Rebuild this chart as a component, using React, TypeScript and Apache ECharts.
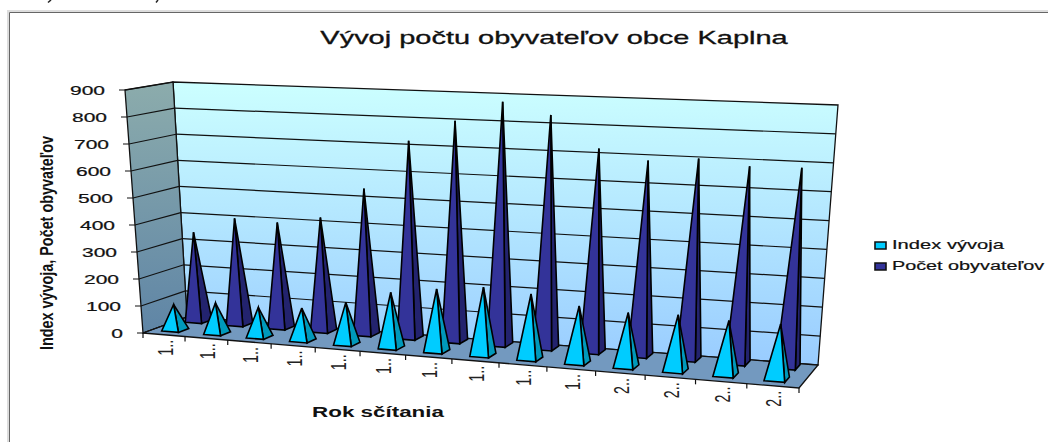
import React, { useEffect, useRef } from "react";
import * as echarts from "echarts";

const categories = ["1..", "1..", "1..", "1..", "1..", "1..", "1..", "1..", "1..", "1..", "2..", "2..", "2..", "2.."];
const indexVyvoja = [94, 112, 108, 117, 150, 198, 222, 240, 228, 198, 187, 192, 185, 186];
const pocetObyvatelov = [337, 399, 393, 421, 537, 721, 801, 877, 836, 723, 688, 703, 684, 687];
const yTicks = [0, 100, 200, 300, 400, 500, 600, 700, 800, 900];
const chartTitle = "Vývoj počtu obyvateľov obce Kaplna";
const xTitle = "Rok sčítania";
const yTitle = "Index vývoja, Počet obyvateľov";
const seriesNames = ["Index vývoja", "Počet obyvateľov"];

const FONT = "Liberation Sans";
const G = { left: 0, top: 0, width: 1000, height: 400 };

type P = [number, number];
const C = {
  flb: [143, 333] as P, flt: [125, 90] as P,
  frb: [799, 388] as P, frt: [820, 119] as P,
  blb: [187, 317] as P, blt: [173, 82] as P,
  brb: [818, 365] as P, brt: [838, 105] as P,
};
const warp = (u: number) => (0.89 * u) / (1 - 0.11 * u);
const mix = (a: P, b: P, t: number): P => [a[0] + (b[0] - a[0]) * t, a[1] + (b[1] - a[1]) * t];
function project(u: number, v: number, w: number): P {
  const t = warp(u);
  const fb = mix(C.flb, C.frb, t), ft = mix(C.flt, C.frt, t);
  const bb = mix(C.blb, C.brb, t), bt = mix(C.blt, C.brt, t);
  return mix(mix(fb, ft, v), mix(bb, bt, v), w);
}
const norm = (p: number[]) => [(p[0] - G.left) / G.width, (G.top + G.height - p[1]) / G.height];
const LINE = "#111";

function wallsItem() {
  const poly = (pts: P[], fill: any) => ({
    type: "polygon", shape: { points: pts }, style: { fill, stroke: LINE, lineWidth: 1.3 },
  });
  const grad = (a: string, b: string, x2 = 0) => new echarts.graphic.LinearGradient(0, 0, x2, 1, [
    { offset: 0, color: a }, { offset: 1, color: b },
  ]);
  return {
    type: "group",
    children: [
      poly([C.blt, C.brt, C.brb, C.blb], grad("#CCFFFF", "#99CCFF")),
      poly([C.flt, C.blt, C.blb, C.flb], grad("#8CACAC", "#5F85A6")),
      poly([C.flb, C.blb, C.brb, C.frb], "#7399BF"),
    ],
  };
}

function yTickItem(_: any, api: any) {
  const val = api.value(0);
  const v = norm(api.coord([0, val]))[1];
  const a = project(0, v, 0), b = project(0, v, 1), c = project(1, v, 1);
  const style = { stroke: LINE, lineWidth: 1.2, fill: "none" };
  const children: any[] = [
    { type: "text", x: a[0] - 20, y: a[1] + 1, scaleX: 1.75, style: { text: String(val), align: "right", verticalAlign: "middle", font: `12px "${FONT}"`, fill: "#111", stroke: "#111", lineWidth: 0.2 } },
  ];
  if (val > 0 && val < 900) {
    children.push({ type: "polyline", shape: { points: [b, c] }, style });
  }
  children.push({ type: "polyline", shape: { points: [[a[0] - 6, a[1]], a, b] }, style });
  return { type: "group", children };
}

function xTickItem(_: any, api: any) {
  const i = api.value(0);
  const c = norm(api.coord([i, 0]));
  const bw = api.size([1, 0])[0] / G.width;
  const a = project(c[0] - bw / 2, 0, 0);
  const m = project(c[0], 0, 0);
  const children: any[] = [
    { type: "polyline", shape: { points: [a, [a[0], a[1] + 5]] }, style: { stroke: LINE, lineWidth: 1.2, fill: "none" } },
    { type: "text", x: m[0] + 1, y: m[1] + 13, rotation: Math.PI / 2, scaleX: 1.2, scaleY: 1.8, style: { text: categories[i], align: "center", verticalAlign: "middle", font: `12px "${FONT}"`, fill: "#222" } },
  ];
  if (i === categories.length - 1) {
    const e = project(1, 0, 0);
    children.push({ type: "polyline", shape: { points: [e, [e[0], e[1] + 5]] }, style: { stroke: LINE, lineWidth: 1.2, fill: "none" } });
  }
  return { type: "group", children };
}

const pyramid = (w0: number, w1: number, front: string, side: string) => (_: any, api: any) => {
  const i = api.value(0), val = api.value(1);
  const top = norm(api.coord([i, val]));
  const bw = api.size([1, 0])[0] / G.width;
  const hw = bw * 0.2;
  const u = top[0] - bw * 0.04, wc = (w0 + w1) / 2;
  const fl = project(u - hw, 0, w0), fr = project(u + hw, 0, w0), br = project(u + hw, 0, w1);
  const apex = project(u, top[1], wc);
  const style = (fill: string) => ({ fill, stroke: "#000", lineWidth: 1.6, lineJoin: "miter" });
  return {
    type: "group",
    children: [
      { type: "polygon", shape: { points: [fr, br, apex] }, style: style(side) },
      { type: "polygon", shape: { points: [fl, fr, apex] }, style: style(front) },
    ],
  };
};

export default function App() {
  const ref = useRef<HTMLDivElement>(null);
  useEffect(() => {
    const chart = echarts.init(ref.current!, undefined, { renderer: "svg" });
    const pairs = (arr: number[]) => arr.map((v, i) => [i, v]);
    const legendText = (t: string, y: number, sx: number) => ({
      type: "text", x: 892, y, scaleX: sx, style: { text: t, font: `12px "${FONT}"`, fill: "#111", stroke: "#111", lineWidth: 0.2, align: "left", verticalAlign: "middle" },
    });
    const legendBox = (y: number, fill: string) => ({
      type: "rect", shape: { x: 875, y: y - 3, width: 11, height: 7 }, style: { fill, stroke: "#111", lineWidth: 1.6 },
    });
    const tail = (pts: P[]) => ({ type: "polyline", shape: { points: pts }, style: { stroke: "#222", lineWidth: 1.5, fill: "none" } });
    chart.setOption({
      animation: false,
      backgroundColor: "#fff",
      grid: { ...G, containLabel: false },
      xAxis: { type: "category", data: categories.map((_, i) => String(i)), show: false, boundaryGap: true },
      yAxis: { type: "value", min: 0, max: 900, interval: 100, show: false },
      graphic: [
        { type: "rect", z: -2, shape: { x: 8, y: 11, width: 1060, height: 450 }, style: { fill: "#fff", stroke: "#ddd", lineWidth: 2 } },
        { type: "rect", z: -1, shape: { x: 9.5, y: 12.5, width: 1060, height: 450 }, style: { fill: "#fff", stroke: "#666", lineWidth: 1 } },
        tail([[51, 0], [48, 2.5]]), tail([[158, 0], [156, 2.5]]),
        { type: "text", x: 554, y: 38, scaleX: 1.61, style: { text: chartTitle, font: `18px "${FONT}"`, fill: "#111", stroke: "#111", lineWidth: 0.3, align: "center", verticalAlign: "middle" } },
        { type: "text", x: 378, y: 412, scaleX: 1.6, style: { text: xTitle, font: `bold 14px "${FONT}"`, fill: "#111", align: "center", verticalAlign: "middle" } },
        { type: "text", x: 46, y: 243, rotation: Math.PI / 2, scaleX: 1.2, scaleY: 1.5, style: { text: yTitle, font: `bold 12px "${FONT}"`, fill: "#111", align: "center", verticalAlign: "middle" } },
        legendBox(245, "#00CCFF"), legendText(seriesNames[0], 245, 1.68),
        legendBox(266, "#333399"), legendText(seriesNames[1], 266, 1.65),
      ],
      series: [
        { type: "custom", name: "walls", silent: true, coordinateSystem: "cartesian2d", data: [[0, 0]], renderItem: wallsItem },
        { type: "custom", name: "yTicks", silent: true, coordinateSystem: "cartesian2d", encode: { x: -1, y: 0 }, data: yTicks.map((t) => [t]), renderItem: yTickItem },
        { type: "custom", name: "xTicks", silent: true, coordinateSystem: "cartesian2d", data: categories.map((_, i) => [i]), renderItem: xTickItem },
        { type: "custom", name: seriesNames[1], silent: true, coordinateSystem: "cartesian2d", data: pairs(pocetObyvatelov), renderItem: pyramid(0.72, 0.96, "#333399", "#23236E") },
        { type: "custom", name: seriesNames[0], silent: true, coordinateSystem: "cartesian2d", data: pairs(indexVyvoja), renderItem: pyramid(0.18, 0.42, "#00CCFF", "#0099BB") },
      ],
    });
    return () => chart.dispose();
  }, []);
  return <div ref={ref} style={{ position: "absolute", left: 0, top: 0, width: 1048, height: 442 }} />;
}
